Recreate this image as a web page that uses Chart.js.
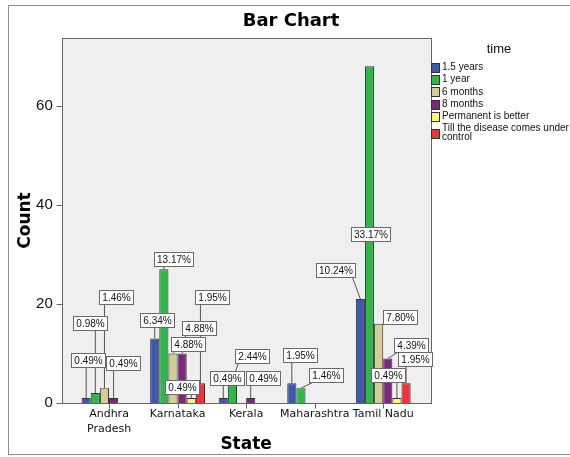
<!DOCTYPE html>
<html>
<head>
<meta charset="utf-8">
<title>Bar Chart</title>
<script src="https://cdn.jsdelivr.net/npm/chart.js@4.4.1/dist/chart.umd.min.js"></script>
<style>
  html, body { margin: 0; padding: 0; background: #fff; }
  #wrap { width: 570px; height: 457px; }
</style>
</head>
<body>
<div id="wrap"><canvas id="chart" width="570" height="457"></canvas></div>
<script>
// counts per state for each answer of "time"
const states = [['Andhra', 'Pradesh'], 'Karnataka', 'Kerala', 'Maharashtra', 'Tamil Nadu'];
const timeGroups = ['1.5 years', '1 year', '6 months', '8 months', 'Permanent is better', 'Till the disease comes under control'];
const years15 = [1, 13, 1, 4, 21];
const year1 = [2, 27, 5, 3, 68];
const months6 = [3, 10, 0, 0, 16];
const months8 = [1, 10, 1, 0, 9];
const permanent = [0, 1, 0, 0, 1];
const tillControl = [0, 4, 0, 0, 4];
const yTicks = [0, 20, 40, 60];

const series = [years15, year1, months6, months8, permanent, tillControl];
const colors = ['#3e58ac', '#2eb848', '#d3ce97', '#7c287d', '#fbf873', '#ef3338'];
const total = series.flat().reduce((s, v) => s + v, 0);

// where each percent box sits, relative to the top of its bar (px)
const labelOffsets = [
  [[2, -38], [2, -19], [4, -20], [8, -28], [-25, -29]],
  [[-5, -70], [10, -10], [20, -22], [25, -13], [1, 168]],
  [[12, -91], [15, -9.5], null, null, [21, -7]],
  [[9, -35], [17, -25.5], [12, -20], null, [23, -13]],
  [null, [-9, -11.5], null, null, [-9, -23.5]],
  [null, [12, -86], null, null, [9, -24]]
];

const SANS = '"Liberation Sans", Arial, sans-serif';
const DEJA = '"DejaVu Sans", Verdana, sans-serif';

const panelPlugin = {
  id: 'panel',
  beforeDraw(chart) {
    const { ctx, chartArea: a } = chart;
    ctx.save();
    ctx.fillStyle = '#fff';
    ctx.fillRect(0, 0, chart.width, chart.height);
    ctx.strokeStyle = '#8c8c8c';
    ctx.lineWidth = 1;
    ctx.strokeRect(8.5, 5.5, 620, 449);
    const l = Math.round(a.left - 13), r = Math.round(a.right + 13);
    ctx.fillStyle = '#efefef';
    ctx.fillRect(l, a.top, r - l, a.bottom - a.top);
    ctx.restore();
  },
  afterDatasetsDraw(chart) {
    const { ctx, chartArea: a, scales } = chart;
    const l = Math.round(a.left - 13) + 0.5, r = Math.round(a.right + 13) + 0.5;
    const t = Math.round(a.top) + 0.5, b = Math.round(a.bottom) + 0.5;
    ctx.save();
    ctx.strokeStyle = '#666';
    ctx.lineWidth = 1;
    ctx.strokeRect(l, t, r - l, b - t);
    ctx.beginPath();
    yTicks.forEach(v => {
      const y = Math.round(scales.y.getPixelForValue(v)) + 0.5;
      ctx.moveTo(l - 6, y); ctx.lineTo(l, y);
    });
    states.forEach((s, i) => {
      const x = Math.round(scales.x.getPixelForValue(i)) + 0.5;
      ctx.moveTo(x, b); ctx.lineTo(x, b + 5);
    });
    ctx.stroke();

    // percent labels with leader lines
    ctx.font = '10px ' + SANS;
    const boxes = [];
    series.forEach((vals, i) => {
      const meta = chart.getDatasetMeta(i);
      vals.forEach((v, j) => {
        const off = labelOffsets[i][j];
        if (!off || !v) return;
        const el = meta.data[j];
        const text = (v / total * 100).toFixed(2) + '%';
        const w = Math.ceil(ctx.measureText(text).width) + 5, h = 14;
        const cx = el.x + off[0], cy = el.y + off[1];
        boxes.push({ text, bx: el.x, by: el.y, x: Math.round(cx - w / 2) + 0.5, y: Math.round(cy - h / 2) + 0.5, w, h });
      });
    });
    ctx.strokeStyle = '#555';
    boxes.forEach(bx => {
      const bottom = bx.y + bx.h;
      if (bottom >= bx.by) return;
      const tx = Math.min(Math.max(bx.bx, bx.x + 3), bx.x + bx.w - 3);
      ctx.beginPath();
      ctx.moveTo(tx, bottom);
      ctx.lineTo(bx.bx, bx.by);
      ctx.stroke();
    });
    ctx.textAlign = 'center';
    ctx.textBaseline = 'middle';
    boxes.forEach(bx => {
      ctx.fillStyle = '#fff';
      ctx.fillRect(bx.x, bx.y, bx.w, bx.h);
      ctx.strokeStyle = '#6a6a6a';
      ctx.strokeRect(bx.x, bx.y, bx.w, bx.h);
      ctx.fillStyle = '#111';
      ctx.fillText(bx.text, bx.x + bx.w / 2, bx.y + bx.h / 2 + 0.5);
    });
    ctx.restore();
  },
  afterDraw(chart) {
    const { ctx } = chart;
    ctx.save();
    ctx.fillStyle = '#000';
    ctx.textBaseline = 'middle';
    ctx.textAlign = 'center';
    ctx.font = 'bold 18px ' + DEJA;
    ctx.fillText('Bar Chart', 291, 21);

    // legend
    ctx.font = '13px ' + SANS;
    ctx.fillStyle = '#111';
    ctx.fillText('time', 499, 49);
    ctx.textAlign = 'left';
    ctx.font = '10px ' + SANS;
    let y = 67.5;
    chart.data.datasets.forEach((ds, i) => {
      const words = ds.label.split(' ');
      const lines = [];
      let cur = '';
      words.forEach(wd => {
        const test = cur ? cur + ' ' + wd : wd;
        if (ctx.measureText(test).width > 128 && cur) { lines.push(cur); cur = wd; } else cur = test;
      });
      lines.push(cur);
      const mid = y + (lines.length - 1) * 4.5;
      ctx.fillStyle = colors[i];
      ctx.fillRect(431, Math.round(mid - 4.5), 8, 9);
      ctx.strokeStyle = '#333';
      ctx.strokeRect(431.5, Math.round(mid - 4.5) + 0.5, 8, 9);
      ctx.fillStyle = '#111';
      lines.forEach((ln, k) => ctx.fillText(ln, 442, y + k * 9));
      y += 12.2;
    });
    ctx.restore();
  }
};

new Chart(document.getElementById('chart'), {
  type: 'bar',
  data: {
    labels: states,
    datasets: series.map((vals, i) => ({
      label: timeGroups[i],
      data: vals.map(v => (v === 0 ? null : v)),
      backgroundColor: colors[i],
      borderColor: '#333',
      borderWidth: 1,
      categoryPercentage: 0.8,
      barPercentage: 1
    }))
  },
  options: {
    responsive: false,
    animation: false,
    layout: { padding: { left: 8, top: 38, right: 152.5, bottom: 0 } },
    plugins: {
      legend: { display: false },
      tooltip: { enabled: false },
      title: { display: false }
    },
    scales: {
      x: {
        grid: { display: false, drawTicks: false },
        border: { display: false },
        ticks: { color: '#111', font: { family: DEJA, size: 11, lineHeight: 1.35 }, padding: 4, maxRotation: 0, autoSkip: false },
        title: { display: true, text: 'State', color: '#000', font: { family: DEJA, size: 17, weight: 'bold' }, padding: { top: 0, bottom: 2 } },
        afterFit(scale) { scale.height = 54; }
      },
      y: {
        min: 0,
        max: 73.7,
        grid: { display: false, drawTicks: false },
        border: { display: false },
        ticks: { color: '#111', font: { family: SANS, size: 15 }, padding: 22, includeBounds: false },
        afterBuildTicks(scale) { scale.ticks = yTicks.map(v => ({ value: v })); },
        title: { display: true, text: 'Count', color: '#000', font: { family: DEJA, size: 17, weight: 'bold' }, padding: { top: 7, bottom: 0 } },
        afterFit(scale) { scale.width = 66.75; }
      }
    }
  },
  plugins: [panelPlugin]
});
</script>
</body>
</html>
